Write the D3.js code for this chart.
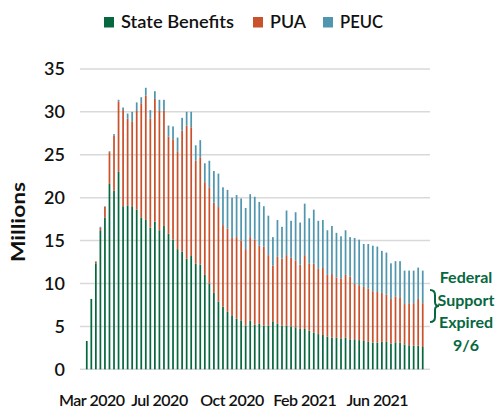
<!DOCTYPE html>
<html>
<head>
<meta charset="utf-8">
<script src="https://cdn.jsdelivr.net/npm/d3@7"></script>
<style>
  body { margin: 0; background: #fff; }
  svg { display: block; font-family: Lato, "Open Sans", sans-serif; }
</style>
</head>
<body>
<svg id="chart" width="496" height="410"></svg>
<script>
// weekly continued claims, millions (week ending, starting 2020-03-14)
const firstWeek = "2020-03-14";
const state = [3.3, 8.2, 12.35, 16.2, 17.7, 21.6, 20.8, 23.0, 19.0, 19.1,
  19.0, 18.6, 17.7, 17.4, 16.5, 17.2, 16.2, 16.7, 15.8, 15.1,
  14.0, 13.7, 12.9, 13.2, 12.3, 12.2, 11.0, 10.0, 8.9, 7.9,
  7.3, 6.7, 6.3, 5.9, 5.7, 5.1, 5.7, 5.2, 5.3, 5.1,
  5.1, 5.6, 5.3, 5.1, 5.1, 5.0, 4.9, 4.7, 4.7, 4.5,
  4.3, 4.1, 4.0, 3.8, 3.7, 3.7, 3.6, 3.7, 3.5, 3.5,
  3.4, 3.3, 3.2, 3.1, 3.1, 3.2, 3.2, 3.0, 3.15, 3.1,
  2.9, 2.8, 2.75, 2.75, 2.6];
const pua = [0, 0, 0.2, 0.3, 1.25, 3.7, 6.4, 8.2, 11.2, 10.1,
  9.9, 11.5, 13.3, 14.5, 12.7, 14.3, 13.9, 13.4, 11.3, 11.7,
  11.4, 14.1, 15.5, 15.0, 12.0, 12.5, 10.8, 11.2, 10.5, 11.0,
  9.5, 9.7, 9.0, 9.5, 9.3, 8.9, 9.7, 9.9, 9.1, 9.2,
  8.2, 6.5, 7.8, 7.8, 8.2, 8.0, 7.8, 7.5, 8.6, 7.85,
  8.0, 7.6, 7.8, 7.2, 7.4, 7.0, 7.0, 7.3, 7.3, 6.45,
  6.4, 6.3, 6.2, 6.0, 5.9, 5.7, 5.5, 5.2, 5.35, 5.3,
  4.7, 4.9, 4.95, 5.45, 5.1];
const peuc = [0, 0, 0.05, 0.1, 0.05, 0.1, 0.2, 0.2, 0.3, 0.6,
  1.1, 1.0, 0.7, 0.9, 1.0, 0.9, 1.3, 1.3, 1.3, 1.5,
  1.6, 1.5, 1.6, 1.8, 1.8, 2.0, 2.2, 3.1, 3.7, 3.9,
  4.4, 4.5, 4.7, 4.9, 4.9, 4.8, 5.0, 5.0, 5.1, 4.7,
  4.6, 3.3, 4.3, 3.7, 5.2, 4.3, 5.6, 4.9, 6.0, 5.25,
  6.3, 5.6, 5.6, 5.2, 5.6, 5.2, 4.9, 5.2, 4.6, 5.35,
  5.3, 5.0, 5.2, 5.3, 5.3, 4.9, 4.9, 4.15, 4.1, 4.2,
  3.9, 3.8, 3.8, 3.65, 3.8];

const seriesKeys = ["State Benefits", "PUA", "PEUC"];
const seriesColors = ["#07683f", "#c9512b", "#4f96ae"];
const yTicks = [0, 5, 10, 15, 20, 25, 30, 35];
const tickWeeks = ["2020-03-14", "2020-07-04", "2020-10-24", "2021-02-13", "2021-06-05"];
const tickLabels = ["Mar 2020", "Jul 2020", "Oct 2020", "Feb 2021", "Jun 2021"];
const noteLines = ["Federal", "Support", "Expired", "9/6"];

const parse = d3.utcParse("%Y-%m-%d");
const fmt = d3.utcFormat("%Y-%m-%d");
const start = parse(firstWeek);
const weeks = state.map((d, i) => fmt(d3.utcDay.offset(start, 7 * i)));

const rows = weeks.map((w, i) => ({
  week: w,
  "State Benefits": state[i],
  "PUA": pua[i],
  "PEUC": peuc[i]
}));

const svg = d3.select("#chart");
const green = seriesColors[0];

const x = d3.scaleBand()
  .domain(weeks)
  .range([84.5, 425])
  .paddingInner(0.62)
  .paddingOuter(0.31);

const y = d3.scaleLinear()
  .domain([0, 35])
  .range([369.3, 68.9]);

// gridlines
svg.append("g")
  .selectAll("line")
  .data(yTicks)
  .join("line")
  .attr("x1", 80)
  .attr("x2", 430)
  .attr("y1", d => y(d))
  .attr("y2", d => y(d))
  .attr("stroke", "#d9d9d9")
  .attr("stroke-width", 1.5);

// y tick labels
svg.append("g")
  .selectAll("text")
  .data(yTicks)
  .join("text")
  .attr("x", 65)
  .attr("y", d => y(d))
  .attr("dy", "0.36em")
  .attr("text-anchor", "end")
  .attr("font-size", 18)
  .attr("font-weight", 600)
  .attr("fill", "#111")
  .text(d => d);

svg.append("text")
  .attr("transform", "translate(25,222) rotate(-90)")
  .attr("text-anchor", "middle")
  .attr("font-size", 19)
  .attr("font-weight", 700)
  .attr("fill", "#111")
  .attr("textLength", 80)
  .attr("lengthAdjust", "spacingAndGlyphs")
  .text("Millions");

// stacked bars
const stacked = d3.stack().keys(seriesKeys)(rows);

svg.append("g")
  .selectAll("g")
  .data(stacked)
  .join("g")
  .attr("fill", (d, i) => seriesColors[i])
  .selectAll("rect")
  .data(d => d)
  .join("rect")
  .attr("x", d => x(d.data.week))
  .attr("width", x.bandwidth())
  .attr("y", d => y(d[1]))
  .attr("height", d => Math.max(0, y(d[0]) - y(d[1])));

// x labels
svg.append("g")
  .selectAll("text")
  .data(tickWeeks)
  .join("text")
  .attr("x", (d, i) => x(d) + x.bandwidth() / 2 + (i === 0 ? 5 : 0))
  .attr("y", 406)
  .attr("text-anchor", "middle")
  .attr("font-size", 16)
  .attr("font-weight", 600)
  .attr("letter-spacing", -0.5)
  .attr("fill", "#111")
  .text((d, i) => tickLabels[i]);

// legend
const legendX = [104, 253, 323];
const legendW = [113, 36, 43];
const legend = svg.append("g")
  .selectAll("g")
  .data(seriesKeys)
  .join("g")
  .attr("transform", (d, i) => `translate(${legendX[i]},0)`);

legend.append("rect")
  .attr("y", 17)
  .attr("width", 10)
  .attr("height", 10.5)
  .attr("fill", (d, i) => seriesColors[i]);

legend.append("text")
  .attr("x", 17)
  .attr("y", 27.5)
  .attr("font-size", 18)
  .attr("font-weight", 600)
  .attr("fill", "#111")
  .attr("textLength", (d, i) => legendW[i])
  .attr("lengthAdjust", "spacingAndGlyphs")
  .text(d => d);

// annotation
svg.append("path")
  .attr("d", "M430,290 Q435,290 435,295 L435,302 Q435,306 439,306 Q435,306 435,310 L435,317 Q435,322 430,322")
  .attr("fill", "none")
  .attr("stroke", green)
  .attr("stroke-width", 2);

svg.append("g")
  .selectAll("text")
  .data(noteLines)
  .join("text")
  .attr("x", 466)
  .attr("y", (d, i) => 283 + i * 22.7)
  .attr("text-anchor", "middle")
  .attr("font-size", 16)
  .attr("font-weight", 700)
  .attr("fill", green)
  .text(d => d);
</script>
</body>
</html>
